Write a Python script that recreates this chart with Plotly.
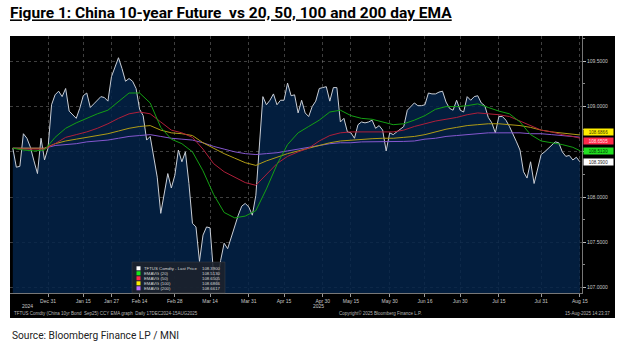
import pandas as pd
import plotly.graph_objects as go

# ---- data -------------------------------------------------------------
# CFFEX trading calendar (weekdays minus exchange holidays)
holidays = ["2025-01-01", "2025-01-28", "2025-01-29", "2025-01-30", "2025-01-31",
            "2025-02-03", "2025-02-04", "2025-04-04", "2025-05-01", "2025-05-02",
            "2025-05-05", "2025-06-02"]
dates = pd.bdate_range("2024-12-17", "2025-08-15", freq="C",
                       holidays=holidays).strftime("%Y-%m-%d").tolist()

# TFTUS Comdty - last price, one value per trading day
price = [
    108.54, 108.33, 108.34, 108.70, 108.65, 108.55, 108.40, 108.26, 108.65, 108.41,
    108.54, 109.02, 109.13, 109.17, 109.11, 109.20, 108.95, 108.91, 108.87, 108.98,
    109.12, 109.15, 108.99, 109.03, 109.07, 109.11, 109.10, 109.06, 109.33, 109.44,
    109.54, 109.42, 109.28, 109.31, 109.28, 109.20, 108.97, 108.90, 108.63, 108.67,
    108.45, 108.22, 107.82, 108.06, 108.26, 108.10, 108.24, 108.52, 108.39, 108.50,
    108.15, 107.71, 107.67, 107.29, 107.58, 107.67, 107.66, 107.15, 107.05, 107.30,
    107.49, 107.43, 107.56, 107.67, 107.80, 107.90, 107.93, 107.89, 107.80, 108.02,
    108.55, 109.11, 109.02, 109.07, 109.14, 109.02, 109.07, 109.07, 109.26, 109.12,
    109.13, 108.93, 109.07, 108.93, 108.89, 109.00, 109.06, 109.20, 109.21, 109.22,
    109.06, 109.21, 109.21, 108.83, 108.87, 108.72, 108.71, 108.65, 108.80, 108.83,
    108.82, 108.83, 108.85, 108.76, 108.79, 108.74, 108.51, 108.71, 108.69, 108.72,
    108.75, 108.78, 108.96, 109.00, 109.04, 109.01, 109.01, 109.02, 109.15, 109.14,
    109.14, 109.16, 109.17, 109.05, 108.98, 108.96, 109.07, 108.96, 108.94, 109.11,
    109.07, 109.11, 109.12, 109.04, 109.01, 108.88, 108.82, 108.71, 108.89, 108.89,
    108.85, 108.78, 108.70, 108.61, 108.52, 108.28, 108.21, 108.39, 108.15, 108.32,
    108.47, 108.50, 108.54, 108.58, 108.61, 108.60, 108.50, 108.45, 108.46, 108.41,
    108.44, 108.39,
]

# moving averages sampled every third trading day (plus the last day)
ema_pos = list(range(0, 160, 3)) + [161]
ema20 = [108.54, 108.52, 108.51, 108.52, 108.66, 108.76, 108.82, 108.87, 108.92, 108.96,
         109.06, 109.15, 109.15, 109.04, 108.77, 108.64, 108.59, 108.50, 108.29, 108.03,
         107.83, 107.77, 107.79, 107.85, 108.09, 108.36, 108.58, 108.71, 108.78, 108.85,
         108.94, 108.96, 108.90, 108.87, 108.86, 108.83, 108.80, 108.81, 108.85, 108.90,
         108.97, 109.00, 109.00, 109.01, 109.03, 108.99, 108.95, 108.92, 108.83, 108.69,
         108.62, 108.60, 108.58, 108.55, 108.5130]
ema50 = [108.54, 108.53, 108.53, 108.53, 108.59, 108.66, 108.69, 108.72, 108.76, 108.81,
         108.87, 108.92, 108.94, 108.92, 108.83, 108.74, 108.71, 108.66, 108.53, 108.37,
         108.28, 108.22, 108.16, 108.13, 108.25, 108.37, 108.45, 108.50, 108.54, 108.62,
         108.68, 108.71, 108.72, 108.72, 108.72, 108.72, 108.72, 108.74, 108.78, 108.81,
         108.84, 108.86, 108.88, 108.91, 108.93, 108.92, 108.91, 108.89, 108.84, 108.79,
         108.74, 108.72, 108.69, 108.67, 108.6505]
ema100 = [108.54, 108.54, 108.54, 108.54, 108.59, 108.62, 108.64, 108.66, 108.68, 108.70,
          108.73, 108.76, 108.78, 108.79, 108.74, 108.71, 108.70, 108.68, 108.60, 108.54,
          108.48, 108.43, 108.38, 108.35, 108.40, 108.44, 108.48, 108.51, 108.54, 108.57,
          108.60, 108.62, 108.63, 108.64, 108.645, 108.65, 108.65, 108.66, 108.67, 108.69,
          108.72, 108.75, 108.77, 108.79, 108.80, 108.81, 108.81, 108.80, 108.79, 108.77,
          108.74, 108.72, 108.71, 108.70, 108.6866]
ema200 = [108.54, 108.54, 108.54, 108.54, 108.57, 108.58, 108.59, 108.61, 108.62, 108.63,
          108.65, 108.67, 108.68, 108.69, 108.67, 108.65, 108.64, 108.63, 108.60, 108.56,
          108.53, 108.50, 108.48, 108.47, 108.48, 108.49, 108.51, 108.53, 108.55, 108.57,
          108.59, 108.60, 108.60, 108.61, 108.61, 108.61, 108.61, 108.615, 108.62, 108.64,
          108.65, 108.67, 108.68, 108.69, 108.70, 108.71, 108.71, 108.71, 108.71, 108.70,
          108.70, 108.69, 108.68, 108.67, 108.6617]

tick_dates = ["2024-12-31", "2025-01-15", "2025-01-27", "2025-02-14", "2025-02-28",
              "2025-03-14", "2025-03-31", "2025-04-15", "2025-04-30", "2025-05-15",
              "2025-05-30", "2025-06-16", "2025-06-30", "2025-07-15", "2025-07-31",
              "2025-08-15"]
tick_labels = ["Dec 31", "Jan 15", "Jan 27", "Feb 14", "Feb 28", "Mar 14", "Mar 31",
               "Apr 15", "Apr 30", "May 15", "May 30", "Jun 16", "Jun 30", "Jul 15",
               "Jul 31", "Aug 15"]
y_ticks = [107.0, 107.5, 108.0, 108.5, 109.0, 109.5]
# the 108.5000 label is covered by the value tags, so it is left blank
y_tick_text = ["107.0000", "107.5000", "108.0000", "", "109.0000", "109.5000"]

series_names = ["TFTUS Comdty - Last Price", "EMAVG (20)", "EMAVG (50)",
                "EMAVG (100)", "EMAVG (200)"]

# ---- geometry helpers (pixel -> paper) ---------------------------------
W, H = 618, 349
L, R, T, B = 10, 582, 36, 293          # plot area in pixels
def px(x):
    return (x - L) / (R - L)
def py(y):
    return (B - y) / (B - T)

ema_dates = [dates[i] for i in ema_pos]

fig = go.Figure()

# price as a filled area
fig.add_trace(go.Scatter(
    x=dates, y=price, mode="lines",
    line=dict(color="#c9ced6", width=1),
    fill="tozeroy", fillcolor="rgba(3,36,74,0.84)",
    hoverinfo="skip", showlegend=False))

line_cols = {"200": "#8557cf", "100": "#b09c16", "50": "#b01f3a", "20": "#14a014"}
for key, vals in [("200", ema200), ("100", ema100), ("50", ema50), ("20", ema20)]:
    fig.add_trace(go.Scatter(
        x=ema_dates, y=vals, mode="lines",
        line=dict(color=line_cols[key], width=1),
        hoverinfo="skip", showlegend=False))

shapes = []
annotations = []

# black terminal panel
shapes.append(dict(type="rect", xref="paper", yref="paper",
                   x0=px(10), x1=px(615), y0=py(318), y1=py(36),
                   fillcolor="black", line=dict(width=0), layer="below"))

# in-chart legend box
leg_x0, leg_x1, leg_y0, leg_y1 = 132, 225, 262, 293
shapes.append(dict(type="rect", xref="paper", yref="paper",
                   x0=px(leg_x0), x1=px(leg_x1), y0=py(leg_y1), y1=py(leg_y0),
                   fillcolor="rgba(28,34,44,0.88)",
                   line=dict(color="rgba(80,80,80,0.7)", width=0.5), layer="above"))
swatch_cols = ["#ffffff", "#19e619", "#ff2a4a", "#ffee00", "#c070ff"]
last_vals = [price[-1], ema20[-1], ema50[-1], ema100[-1], ema200[-1]]
leg_font = dict(size=4.3, color="#d8d8d8", family="Liberation Sans")
for k, (name, col, v) in enumerate(zip(series_names, swatch_cols, last_vals)):
    yc = 268.3 + 5 * k
    shapes.append(dict(type="rect", xref="paper", yref="paper",
                       x0=px(136.5), x1=px(140.5), y0=py(yc + 2), y1=py(yc - 2),
                       fillcolor=col, line=dict(width=0), layer="above"))
    annotations.append(dict(xref="paper", yref="paper", x=px(142), y=py(yc),
                            xanchor="left", yanchor="middle", showarrow=False,
                            text=name, font=leg_font))
    annotations.append(dict(xref="paper", yref="paper", x=px(223), y=py(yc),
                            xanchor="right", yanchor="middle", showarrow=False,
                            text=f"{v:.4f}", font=leg_font))

# last-value tags on the right axis (the EMA(200) tag sits hidden behind the others)
tags = [(ema100[-1], "#ffee00", "#333300", 2.5), (ema50[-1], "#ff2a4a", "#ffe0e4", -2.5),
        (ema20[-1], "#22e022", "#003300", 0), (price[-1], "#ffffff", "#222222", 0)]
for v, bg, fg, shift in tags:
    annotations.append(dict(xref="paper", yref="y", x=px(583), y=v, yshift=shift,
                            xanchor="left", yanchor="middle", showarrow=False,
                            text=f"{v:.4f}", bgcolor=bg, borderpad=0.5, width=28,
                            font=dict(size=4.5, color=fg, family="Liberation Sans")))

# year labels under the date axis
for txt, xp in [("2024", 27), ("2025", 318)]:
    annotations.append(dict(xref="paper", yref="paper", x=px(xp), y=py(306),
                            xanchor="center", yanchor="middle", showarrow=False,
                            text=txt, font=dict(size=5, color="#c8c8c8",
                                                 family="Liberation Sans")))

# terminal footer line
foot_font = dict(size=4.5, color="#b8b8b8", family="Liberation Sans")
annotations.append(dict(xref="paper", yref="paper", x=px(12), y=py(313),
                        xanchor="left", yanchor="middle", showarrow=False,
                        text="TFTUS Comdty (China 10yr Bond  Sep25) CCY EMA graph  Daily 17DEC2024-15AUG2025",
                        font=foot_font))
annotations.append(dict(xref="paper", yref="paper", x=px(380), y=py(313),
                        xanchor="center", yanchor="middle", showarrow=False,
                        text="Copyright© 2025 Bloomberg Finance L.P.", font=foot_font))
annotations.append(dict(xref="paper", yref="paper", x=px(612), y=py(313),
                        xanchor="right", yanchor="middle", showarrow=False,
                        text="15-Aug-2025 14:23:37", font=foot_font))

# source line
annotations.append(dict(xref="paper", yref="paper", x=px(10), y=py(335),
                        xanchor="left", yanchor="middle", showarrow=False,
                        text="Source: Bloomberg Finance LP / MNI",
                        font=dict(size=10.2, color="#222222", family="Roboto")))

grid_col = "rgba(140,140,140,0.45)"
fig.update_layout(
    width=W, height=H,
    margin=dict(l=L, r=W - R, t=T, b=H - B),
    paper_bgcolor="white", plot_bgcolor="black",
    title=dict(text="<b><u>Figure 1: China 10-year Future  vs 20, 50, 100 and 200 day EMA</u></b>",
               x=10 / W, y=1 - 13 / H, xref="container", yref="container",
               xanchor="left", yanchor="middle",
               font=dict(size=15.5, color="black", family="Roboto")),
    xaxis=dict(type="category", categoryorder="array", categoryarray=dates,
               range=[-0.8, 161.6], tickmode="array", tickvals=tick_dates,
               ticktext=tick_labels, tickangle=0,
               tickfont=dict(size=5, color="#c8c8c8", family="Liberation Sans"),
               ticks="outside", ticklen=3, tickcolor="#999999",
               showgrid=True, gridcolor=grid_col, griddash="dot", gridwidth=1,
               showline=True, linecolor="#777777", linewidth=1, zeroline=False),
    yaxis=dict(side="right", range=[106.94, 109.78], tickmode="array",
               tickvals=y_ticks, ticktext=y_tick_text,
               tickfont=dict(size=5, color="#c8c8c8", family="Liberation Sans"),
               ticks="outside", ticklen=3, tickcolor="#bbbbbb",
               minor=dict(tickvals=[107.25, 107.75, 108.25, 108.75, 109.25, 109.75],
                          ticks="outside", ticklen=2, tickcolor="#888888", showgrid=False),
               showgrid=True, gridcolor=grid_col, griddash="dot", gridwidth=1,
               showline=True, linecolor="#777777", linewidth=1, zeroline=False),
    shapes=shapes, annotations=annotations, showlegend=False,
)

fig.write_html("out.html")
